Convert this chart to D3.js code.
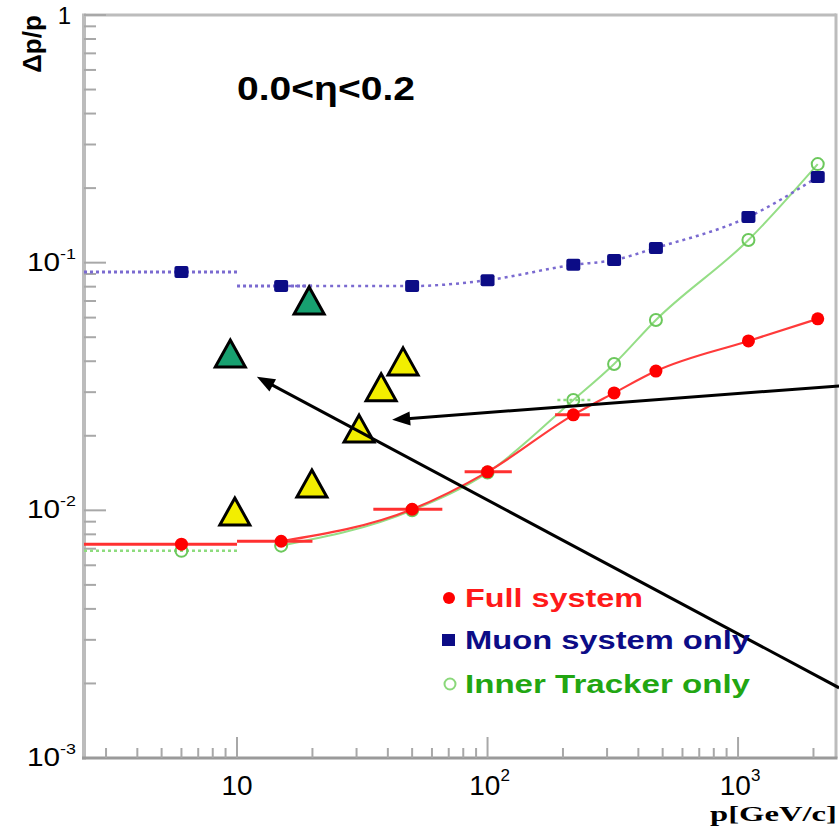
<!DOCTYPE html>
<html>
<head>
<meta charset="utf-8">
<script src="https://cdn.jsdelivr.net/npm/d3@7/dist/d3.min.js"></script>
<style>
  html, body { margin: 0; padding: 0; background: #fff; }
  svg { display: block; }
</style>
</head>
<body>
<svg id="chart" width="839" height="827"></svg>
<script>
// Momentum resolution vs momentum, 0.0 < eta < 0.2
const momenta = [6, 15, 50, 100, 220, 320, 470, 1100, 2080];

const fullSystem  = [0.0073, 0.0075, 0.0101, 0.0143, 0.0243, 0.0298, 0.0365, 0.0483, 0.0593];
const muonOnly    = [0.0917, 0.0805, 0.0805, 0.085, 0.098, 0.1025, 0.1147, 0.153, 0.222];
const trackerOnly = [0.00686, 0.0072, 0.0100, 0.0142, 0.0279, 0.039, 0.0587, 0.1235, 0.250];

// horizontal bin extents [low, high] (null = none)
const fullBins    = [[2.45, 10], [10, 20], [35, 66], [81, 125], [186, 256], null, null, null, null];
const muonBins    = [[2.45, 10], [10, 20], null, null, null, null, null, null, null];
const trackerBins = [[2.45, 10], null, null, null, [190, 260], null, null, null, null];

// single-measurement markers
const greenTriP = [9.4, 19.4];
const greenTriR = [0.0412, 0.0675];
const yellowTriP = [9.8, 19.9, 30.7, 37.6, 46];
const yellowTriR = [0.00949, 0.01231, 0.0205, 0.0301, 0.0383];

// annotation arrows: tail -> head
const arrowTailP = [2530, 2530];
const arrowTailR = [0.00192, 0.0318];
const arrowHeadP = [12.0, 41.6];
const arrowHeadR = [0.0346, 0.0232];

const xTickValues = [10, 100, 1000];
const xTickSup = ["", "2", "3"];
const yTickValues = [0.001, 0.01, 0.1, 1];
const yTickSup = ["-3", "-2", "-1", ""];

const legendNames = ["Full system", "Muon system only", "Inner Tracker only"];

const svg = d3.select("#chart");
const L = 84, R = 836, T = 15, B = 758;

const x = d3.scaleLog().domain([2.45, 2460]).range([L, R]);
const y = d3.scaleLog().domain([1e-3, 1]).range([B, T]);

// ---- frame and ticks ----
const frame = svg.append("g");
frame.append("line").attr("x1", L).attr("x2", R).attr("y1", T).attr("y2", T)
  .attr("stroke", "#bcbcbc").attr("stroke-width", 3);
frame.append("line").attr("x1", R).attr("x2", R).attr("y1", T - 1.5).attr("y2", B)
  .attr("stroke", "#bcbcbc").attr("stroke-width", 3);
frame.append("line").attr("x1", L).attr("x2", L).attr("y1", T - 1.5).attr("y2", B + 1.5)
  .attr("stroke", "#bcbcbc").attr("stroke-width", 4);
frame.append("line").attr("x1", L - 2).attr("x2", R + 1.5).attr("y1", B).attr("y2", B)
  .attr("stroke", "#9a9a9a").attr("stroke-width", 3);

function logTicks(lo, hi) {
  const out = [];
  for (let e = Math.floor(Math.log10(lo)); e <= Math.ceil(Math.log10(hi)); e++) {
    for (let m = 1; m <= 9; m++) {
      const v = m * Math.pow(10, e);
      if (v > lo * 1.0001 && v < hi * 0.9999) out.push({ v, major: m === 1 });
    }
  }
  return out;
}

frame.selectAll(".xt").data(logTicks(2.45, 2460)).enter().append("line")
  .attr("x1", d => x(d.v)).attr("x2", d => x(d.v))
  .attr("y1", B).attr("y2", d => B - (d.major ? 21 : 10))
  .attr("stroke", "#a8a8a8").attr("stroke-width", 2);

frame.selectAll(".yt").data(logTicks(0.001, 1).concat([{ v: 1, major: true }])).enter().append("line")
  .attr("x1", L).attr("x2", d => L + (d.major ? 22 : 12))
  .attr("y1", d => y(d.v)).attr("y2", d => y(d.v))
  .attr("stroke", "#a8a8a8").attr("stroke-width", 2);

// ---- tick labels ----
const font = "'Liberation Sans', Arial, Helvetica, sans-serif";
xTickValues.forEach((v, i) => {
  const t = svg.append("text").attr("x", x(v) + (xTickSup[i] ? 2 : 0)).attr("y", 795)
    .attr("text-anchor", "middle").attr("font-family", font).attr("font-size", 28).attr("fill", "#000");
  t.append("tspan").text("10");
  if (xTickSup[i]) t.append("tspan").attr("font-size", 17).attr("dy", -14).text(xTickSup[i]);
});

yTickValues.forEach((v, i) => {
  const t = svg.append("text").attr("x", 76).attr("y", y(v) + (yTickSup[i] ? 8 : 9))
    .attr("text-anchor", "end").attr("font-family", font).attr("fill", "#000");
  if (yTickSup[i]) {
    t.attr("font-size", 25).attr("textLength", 49).attr("lengthAdjust", "spacingAndGlyphs");
    t.append("tspan").text("10");
    t.append("tspan").attr("font-size", 15).attr("dy", -12).text(yTickSup[i]);
  } else {
    t.attr("x", 71).attr("font-size", 24).text("1");
  }
});

// axis titles
svg.append("text").attr("transform", "translate(41,44) rotate(-90)")
  .attr("text-anchor", "middle").attr("font-family", font).attr("font-weight", "bold")
  .attr("font-size", 26).attr("fill", "#000").text("Δp/p");

svg.append("text").attr("x", 837).attr("y", 821).attr("text-anchor", "end")
  .attr("font-family", "'Liberation Serif', 'Times New Roman', serif").attr("font-weight", "bold")
  .attr("font-size", 22).attr("textLength", 127).attr("lengthAdjust", "spacingAndGlyphs")
  .attr("fill", "#000").text("p[GeV/c]");

svg.append("text").attr("x", 237).attr("y", 100)
  .attr("font-family", font).attr("font-weight", "bold").attr("font-size", 33)
  .attr("textLength", 178).attr("lengthAdjust", "spacingAndGlyphs").attr("fill", "#000")
  .text("0.0<η<0.2");

// ---- series ----
const pts = (vals) => momenta.map((p, i) => ({ p, r: vals[i] }));
const line = d3.line().x(d => x(d.p)).y(d => y(d.r)).curve(d3.curveMonotoneX);

function drawBins(vals, bins, color, width, dash) {
  svg.append("g").selectAll("line").data(momenta.map((p, i) => ({ r: vals[i], b: bins[i] })).filter(d => d.b))
    .enter().append("line")
    .attr("x1", d => x(d.b[0])).attr("x2", d => x(d.b[1]))
    .attr("y1", d => y(d.r)).attr("y2", d => y(d.r))
    .attr("stroke", color).attr("stroke-width", width)
    .attr("stroke-dasharray", dash || null);
}

// Inner tracker only
drawBins(trackerOnly, trackerBins, "#8edc7e", 2.5, "3,3");
svg.append("path").datum(pts(trackerOnly).slice(1)).attr("d", line)
  .attr("fill", "none").attr("stroke", "#95de86").attr("stroke-width", 2);
svg.append("g").selectAll("circle").data(pts(trackerOnly)).enter().append("circle")
  .attr("cx", d => x(d.p)).attr("cy", d => y(d.r)).attr("r", 6)
  .attr("fill", "none").attr("stroke", "#6cc85c").attr("stroke-width", 2);

// Full system
drawBins(fullSystem, fullBins, "#ff3030", 3);
svg.append("path").datum(pts(fullSystem).slice(1)).attr("d", line)
  .attr("fill", "none").attr("stroke", "#ff3a3a").attr("stroke-width", 2.2);
svg.append("g").selectAll("circle").data(pts(fullSystem)).enter().append("circle")
  .attr("cx", d => x(d.p)).attr("cy", d => y(d.r)).attr("r", 6.5).attr("fill", "#ff0000");

// Muon system only
drawBins(muonOnly, muonBins, "#7a6ad0", 3, "3,3");
svg.append("path").datum(pts(muonOnly).slice(1)).attr("d", line)
  .attr("fill", "none").attr("stroke", "#7a6ad0").attr("stroke-width", 2.5).attr("stroke-dasharray", "3,4");
svg.append("g").selectAll("rect").data(pts(muonOnly)).enter().append("rect")
  .attr("x", d => x(d.p) - 7).attr("y", d => y(d.r) - 6).attr("width", 14).attr("height", 12)
  .attr("rx", 2).attr("fill", "#0c0c86");

// ---- triangles ----
function triangles(ps, rs, fill) {
  const h = 27, w = 30;
  svg.append("g").selectAll("path").data(ps.map((p, i) => ({ p, r: rs[i] }))).enter().append("path")
    .attr("d", d => {
      const cx = x(d.p), cy = y(d.r);
      return `M${cx},${cy - 2 * h / 3}L${cx + w / 2},${cy + h / 3}L${cx - w / 2},${cy + h / 3}Z`;
    })
    .attr("fill", fill).attr("stroke", "#000").attr("stroke-width", 3).attr("stroke-linejoin", "miter");
}
triangles(greenTriP, greenTriR, "#17a070");
triangles(yellowTriP, yellowTriR, "#f2ee00");

// ---- arrows ----
arrowTailP.forEach((tp, i) => {
  const x0 = x(tp), y0 = y(arrowTailR[i]), x1 = x(arrowHeadP[i]), y1 = y(arrowHeadR[i]);
  const ang = Math.atan2(y1 - y0, x1 - x0), len = 18, half = 7;
  const bx = x1 - len * Math.cos(ang), by = y1 - len * Math.sin(ang);
  svg.append("line").attr("x1", x0).attr("y1", y0).attr("x2", bx + 3 * Math.cos(ang)).attr("y2", by + 3 * Math.sin(ang))
    .attr("stroke", "#000").attr("stroke-width", 3);
  svg.append("path")
    .attr("d", `M${x1},${y1}L${bx - half * Math.sin(ang)},${by + half * Math.cos(ang)}L${bx + half * Math.sin(ang)},${by - half * Math.cos(ang)}Z`)
    .attr("fill", "#000");
});

// ---- legend ----
const legendColors = ["#ff1a1a", "#0c0c86", "#22a612"];
const legendY = [598, 640, 684];
const legendLen = [178, 285, 285];
const lg = svg.append("g");
lg.append("circle").attr("cx", 449).attr("cy", legendY[0]).attr("r", 6).attr("fill", "#ff0000");
lg.append("rect").attr("x", 442).attr("y", legendY[1] - 6).attr("width", 13).attr("height", 12).attr("fill", "#0c0c86");
lg.append("circle").attr("cx", 450).attr("cy", legendY[2]).attr("r", 5.5).attr("fill", "none")
  .attr("stroke", "#8ad87a").attr("stroke-width", 2);
legendNames.forEach((name, i) => {
  lg.append("text").attr("x", 465).attr("y", legendY[i] + 9)
    .attr("font-family", font).attr("font-weight", "bold").attr("font-size", 25)
    .attr("textLength", legendLen[i]).attr("lengthAdjust", "spacingAndGlyphs")
    .attr("fill", legendColors[i]).text(name);
});
</script>
</body>
</html>
